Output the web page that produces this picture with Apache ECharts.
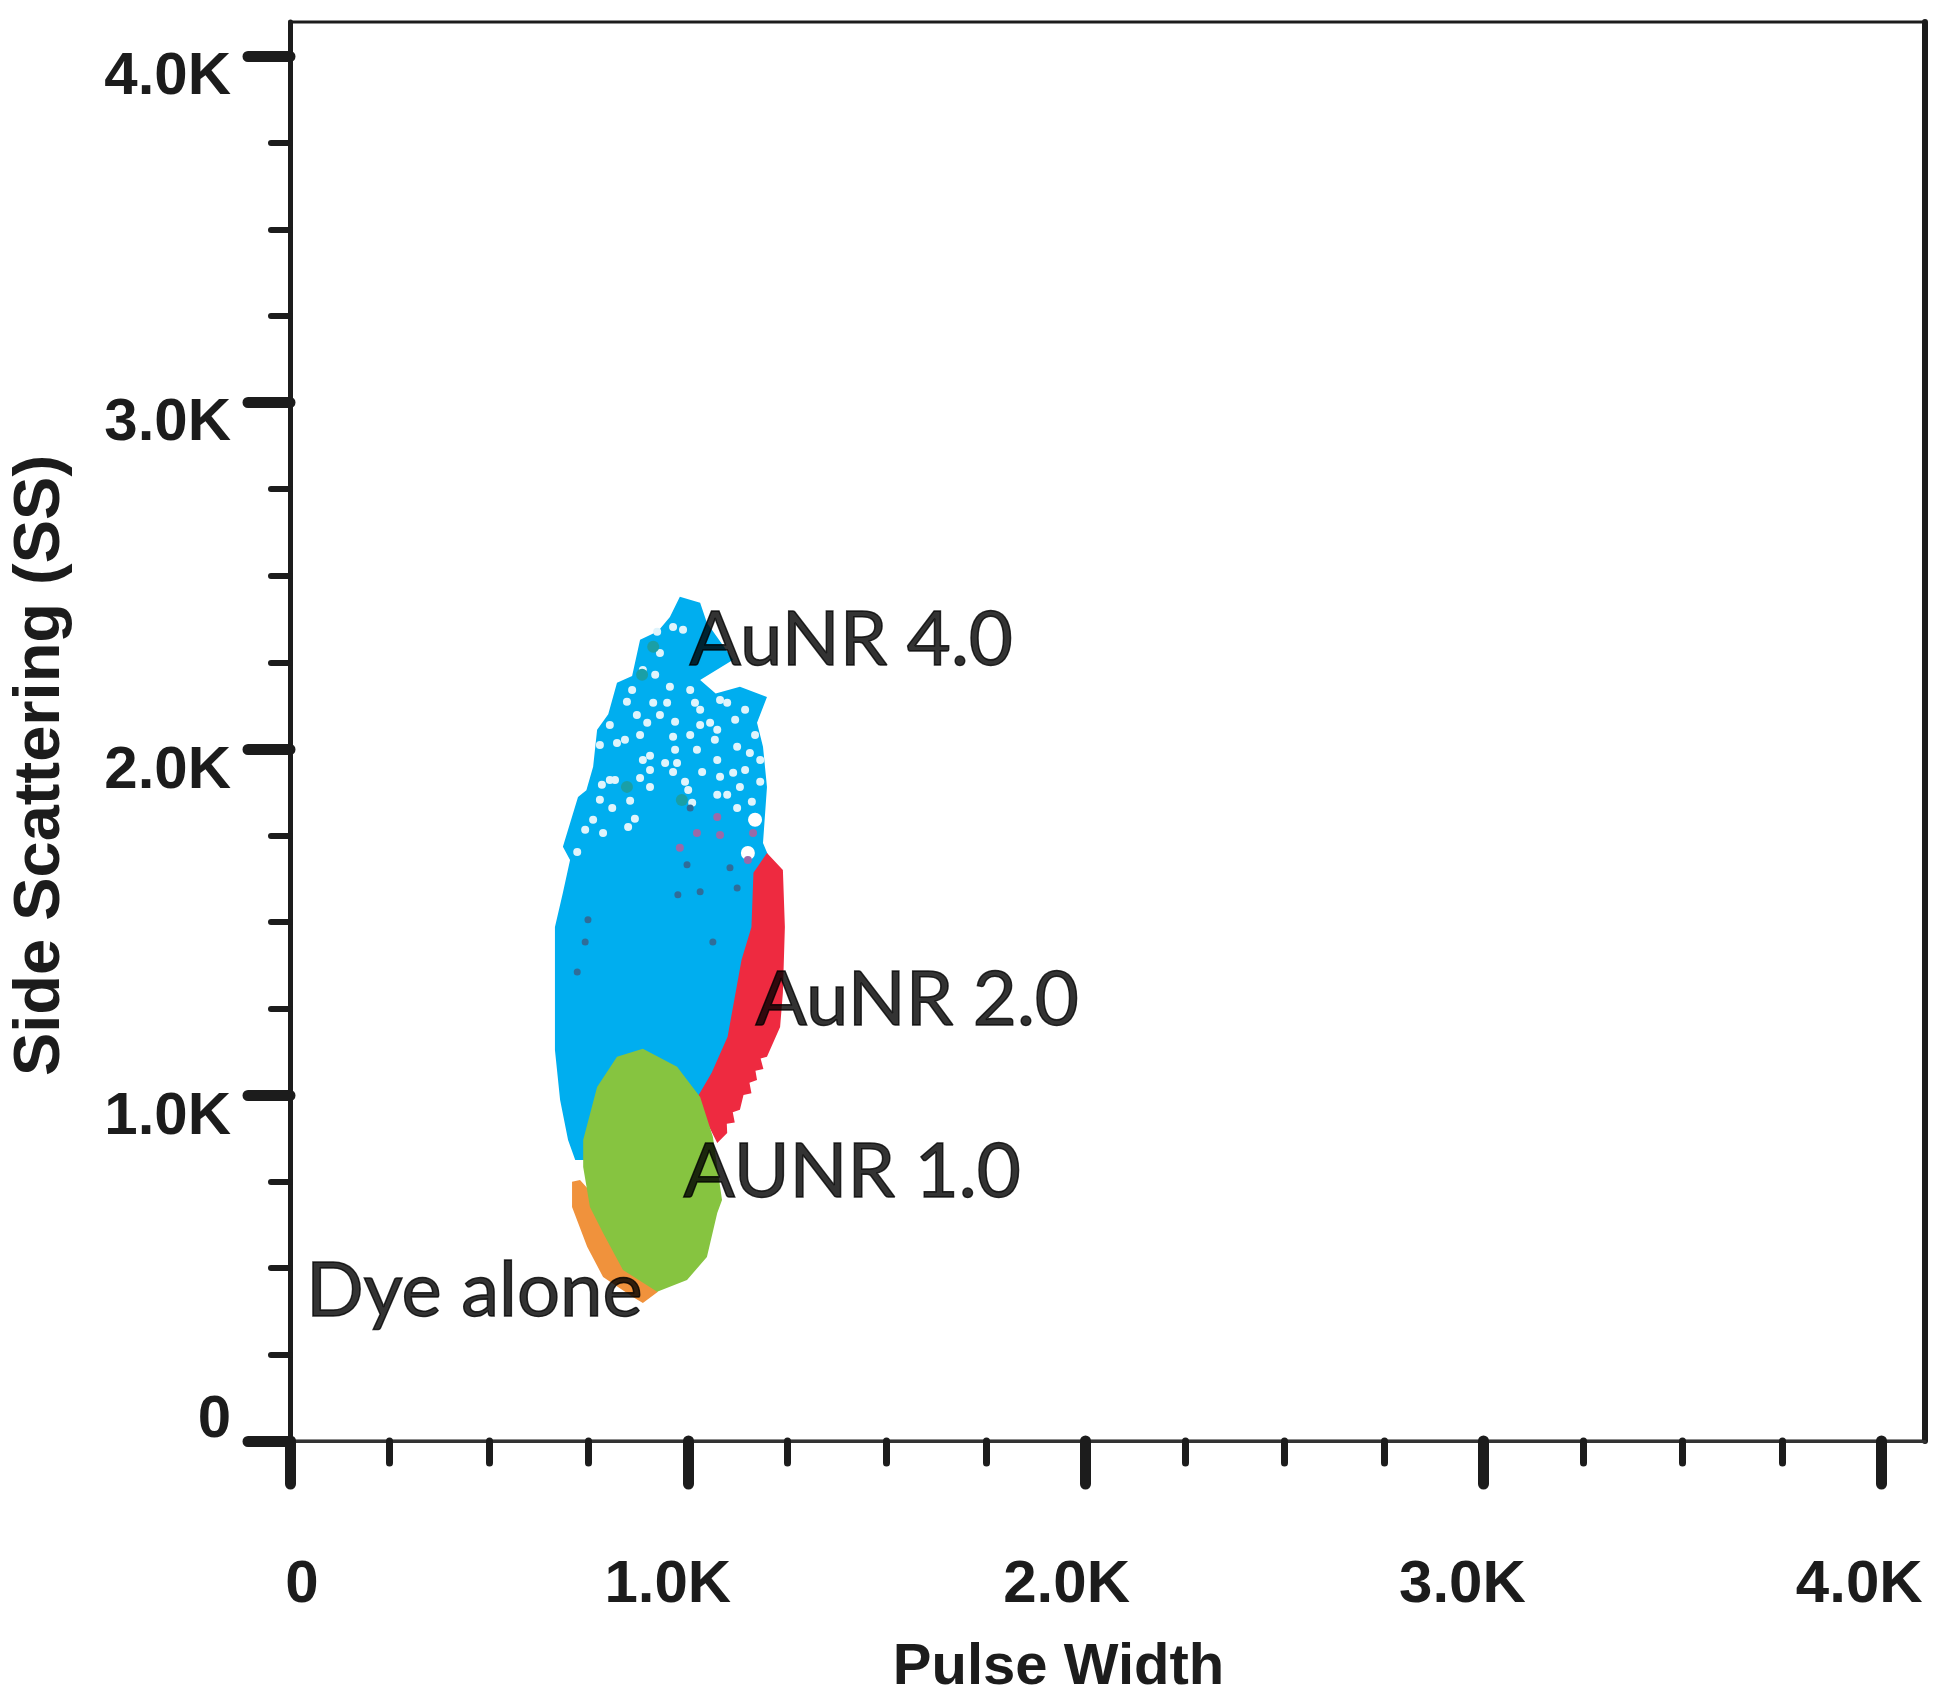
<!DOCTYPE html>
<html>
<head>
<meta charset="utf-8" />
<title>Side Scattering vs Pulse Width</title>
<script src="https://cdn.jsdelivr.net/npm/echarts@6/dist/echarts.min.js"></script>
<style>
  html, body { margin: 0; background: #fff; }
  /* the reference is a soft, upscaled scan */
  #chart { width: 1950px; height: 1704px; filter: blur(0.7px); }
</style>
</head>
<body>
<div id="chart"></div>
<script>
const majorTicks = [0, 1000, 2000, 3000, 4000]
const minorTicks = [250, 500, 750, 1250, 1500, 1750, 2250, 2500, 2750, 3250, 3500, 3750]
const tickLabels = ['0', '1.0K', '2.0K', '3.0K', '4.0K']

// gate outlines: [pulse width, side scattering]
const aunr40Outline = [
  [717, 812], [699, 870], [679, 985], [666, 1130], [666, 1485], [686, 1584], [704, 1679], [686, 1717],
  [724, 1861], [745, 1880], [762, 1948], [772, 2055], [800, 2100], [822, 2191], [860, 2210], [880, 2315],
  [925, 2340], [955, 2381], [980, 2439], [1031, 2422], [1048, 2364], [1114, 2257], [1031, 2199], [1070, 2160],
  [1131, 2179], [1199, 2150], [1174, 2075], [1189, 2006], [1199, 1890], [1189, 1728], [1207, 1679],
  [1177, 1642], [1174, 1485], [1151, 1390], [1124, 1254], [1114, 1179], [1063, 1064], [1031, 994],
  [905, 985], [779, 812]
]
const aunr20Outline = [
  [1199, 1699], [1239, 1650], [1244, 1485], [1239, 1295], [1232, 1196], [1199, 1110], [1183, 1105],
  [1190, 1075], [1170, 1070], [1174, 1043], [1155, 1035], [1160, 1005], [1140, 1000], [1131, 957],
  [1113, 950], [1118, 920], [1098, 917], [1099, 890], [1074, 861], [1020, 985], [1060, 1064], [1100, 1168],
  [1135, 1390], [1160, 1485], [1165, 1642]
]
const aunr10Outline = [
  [887, 1133], [822, 1110], [772, 1023], [737, 870], [737, 792], [754, 676], [787, 601], [837, 494],
  [923, 431], [998, 465], [1048, 532], [1074, 659], [1086, 696], [1063, 879], [1031, 994], [973, 1081]
]
const dyeOutline = [
  [709, 749], [729, 754], [790, 676], [830, 601], [880, 494], [925, 431], [887, 399], [862, 416],
  [787, 474], [747, 561], [709, 676]
]

// sparse spots in the AuNR 4.0 cloud
const cloudGaps = [
  [822, 2017], [887, 1968], [905, 1980], [943, 1959], [973, 1959], [968, 1997], [963, 2035], [1023, 1997],
  [1068, 2026], [1074, 1968], [1124, 2006], [1156, 1988], [1036, 1933], [963, 1933], [993, 1905], [1001, 1881],
  [1081, 1919], [1114, 1931], [1131, 1890], [1074, 1867], [1099, 1867], [1182, 1905], [804, 1910], [817, 1910],
  [784, 1896], [855, 1850], [810, 1829], [867, 1798], [850, 1774], [762, 1795], [742, 1766], [787, 1757],
  [722, 1702], [1011, 1844], [1124, 1829], [1161, 1847], [905, 1890], [880, 1916], [963, 2352], [930, 2277],
  [988, 2344], [918, 2214], [955, 2179], [847, 2136], [913, 2133], [948, 2133], [1018, 2133], [872, 2098],
  [968, 2078], [1056, 2075], [898, 2075], [1031, 2113], [1099, 2133], [1074, 2055], [887, 2228], [923, 2338],
  [860, 2170], [1006, 2170], [930, 2098], [1031, 2069], [1119, 2084], [1144, 2113], [1081, 2141], [804, 2069],
  [842, 2026], [779, 2011], [880, 2040], [1006, 2040], [905, 1939], [779, 1853], [1144, 1939], [1182, 1968],
  [1169, 2040]
]
const wideGaps = [[1169, 1795], [1151, 1699]]
const navyEvents = [
  [1006, 1829], [975, 1578], [1031, 1587], [1063, 1442], [742, 1442], [722, 1355], [749, 1506], [1106, 1656],
  [998, 1665], [1124, 1598]
]
const mauveEvents = [[1074, 1803], [1023, 1757], [1081, 1751], [980, 1714], [1164, 1757], [1151, 1679]]
const tealEvents = [[913, 2295], [985, 1852], [847, 1890], [885, 2214]]

const annotations = [
  { name: 'AuNR 4.0', value: [1004, 2312] },
  { name: 'AuNR 2.0', value: [1170, 1274] },
  { name: 'AUNR 1.0', value: [989, 775] },
  { name: 'Dye alone', value: [40, 431] }
]

const labelFont = { color: '#1c1c1c', fontFamily: 'Liberation Sans', fontWeight: 'bold', fontSize: 60 }
const tickLine = { color: '#1c1c1c', cap: 'round' }

const polygon = (name, outline, color) => ({
  name,
  type: 'custom',
  coordinateSystem: 'cartesian2d',
  silent: true,
  data: outline,
  renderItem: (params, api) => {
    if (params.dataIndex !== 0) return null
    return {
      type: 'polygon',
      shape: { points: outline.map(p => api.coord(p)) },
      style: { fill: color }
    }
  }
})

const dots = (name, data, color, size) => ({
  name,
  type: 'scatter',
  symbol: 'circle',
  symbolSize: size,
  silent: true,
  itemStyle: { color, opacity: 1 },
  data
})

const option = {
  backgroundColor: '#fff',
  animation: false,
  grid: {
    show: true,
    left: 290,
    top: 22,
    width: 1635,
    height: 1419,
    outerBoundsMode: 'none',
    backgroundColor: '#fff',
    borderColor: '#1c1c1c',
    borderWidth: 3
  },
  xAxis: [
    {
      type: 'value',
      min: 0,
      max: 4110,
      name: 'Pulse Width',
      nameLocation: 'middle',
      nameGap: 198,
      nameTextStyle: { ...labelFont, fontSize: 58, padding: [0, 98, 0, 0] },
      splitLine: { show: false },
      axisLine: { lineStyle: { color: '#333', width: 3 } },
      axisTick: { customValues: majorTicks, length: 43, lineStyle: { ...tickLine, width: 11 } },
      axisLabel: {
        customValues: majorTicks,
        margin: 114,
        formatter: v => `{t${v}|${tickLabels[v / 1000]}}`,
        rich: {
          t0: { ...labelFont, padding: [0, 0, 0, 24] },
          t1000: { ...labelFont, padding: [0, 40, 0, 0] },
          t2000: { ...labelFont, padding: [0, 38, 0, 0] },
          t3000: { ...labelFont, padding: [0, 42, 0, 0] },
          t4000: { ...labelFont, padding: [0, 44, 0, 0] }
        }
      }
    },
    {
      type: 'value',
      min: 0,
      max: 4110,
      position: 'bottom',
      splitLine: { show: false },
      axisLine: { show: false },
      axisTick: { customValues: minorTicks, length: 22, lineStyle: { ...tickLine, width: 7 } },
      axisLabel: { show: false }
    }
  ],
  yAxis: [
    {
      type: 'value',
      min: 0,
      max: 4100,
      name: 'Side Scattering (SS)',
      nameLocation: 'middle',
      nameGap: 216,
      nameTextStyle: { ...labelFont, fontSize: 65, padding: [0, 68, 0, 0] },
      splitLine: { show: false },
      axisLine: { lineStyle: { color: '#1c1c1c', width: 5 } },
      axisTick: { customValues: majorTicks, length: 42, lineStyle: { ...tickLine, width: 11 } },
      axisLabel: {
        customValues: majorTicks,
        margin: 59,
        formatter: v => `{t${v}|${tickLabels[v / 1000]}}`,
        rich: {
          t0: { ...labelFont, padding: [0, 0, 42, 0] },
          t1000: { ...labelFont, padding: [46, 0, 0, 0] },
          t2000: { ...labelFont, padding: [45, 0, 0, 0] },
          t3000: { ...labelFont, padding: [42, 0, 0, 0] },
          t4000: { ...labelFont, padding: [42, 0, 0, 0] }
        }
      }
    },
    {
      type: 'value',
      min: 0,
      max: 4100,
      position: 'left',
      splitLine: { show: false },
      axisLine: { show: false },
      axisTick: { customValues: minorTicks, length: 19, lineStyle: { ...tickLine, width: 6 } },
      axisLabel: { show: false }
    },
    {
      type: 'value',
      min: 0,
      max: 4100,
      position: 'right',
      splitLine: { show: false },
      axisLine: { lineStyle: { color: '#1c1c1c', width: 6 } },
      axisTick: { show: false },
      axisLabel: { show: false }
    }
  ],
  series: [
    polygon('AuNR 4.0', aunr40Outline, '#00aeef'),
    polygon('AuNR 2.0', aunr20Outline, '#ee2a40'),
    polygon('Dye alone', dyeOutline, '#f0923c'),
    polygon('AUNR 1.0', aunr10Outline, '#86c440'),
    dots('gaps', cloudGaps, '#dff4fc', 8),
    dots('wide gaps', wideGaps, '#ffffff', 14),
    dots('navy events', navyEvents, '#2f6d99', 7),
    dots('mauve events', mauveEvents, '#9a6aa8', 8),
    dots('teal events', tealEvents, '#1a9fa6', 12),
    {
      name: 'labels',
      type: 'scatter',
      symbolSize: 0,
      silent: true,
      data: annotations,
      label: {
        show: true,
        position: 'right',
        distance: 0,
        formatter: '{b}',
        color: '#000',
        textBorderColor: '#000',
        textBorderWidth: 1.5,
        fontFamily: 'Lato',
        fontSize: 76
      }
    }
  ]
}

const chart = echarts.init(document.getElementById('chart'), null, { renderer: 'canvas' })
chart.setOption(option)
</script>
</body>
</html>
